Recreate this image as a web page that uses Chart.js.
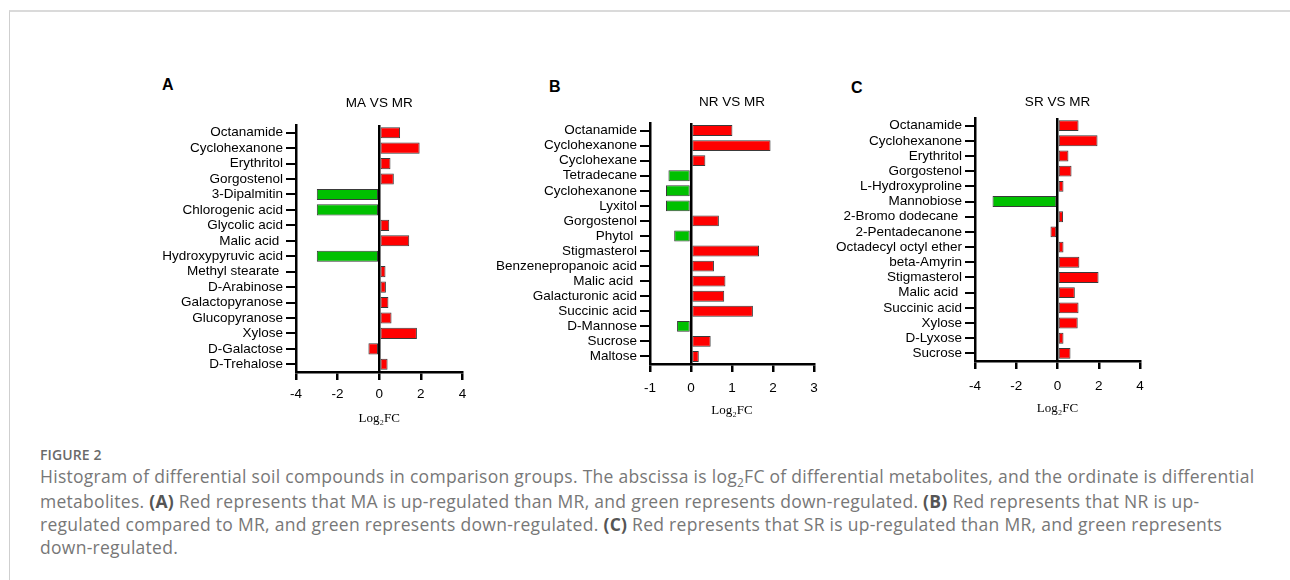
<!DOCTYPE html>
<html>
<head>
<meta charset="utf-8">
<script src="https://cdn.jsdelivr.net/npm/chart.js@4.4.1/dist/chart.umd.min.js"></script>
<style>
    html, body { margin: 0; padding: 0; background: #fff; }
    body { width: 1290px; height: 580px; position: relative; overflow: hidden; font-family: Arial, "Liberation Sans", sans-serif; }
    .frame { position: absolute; left: 9px; top: 10px; width: 1300px; height: 600px; border-top: 2px solid #dadada; border-left: 1.5px solid #cfcfcf; }
    .panel { position: absolute; }
    .letter { position: absolute; font: bold 16px Arial, "Liberation Sans", sans-serif; color: #000; line-height: 18px; }
    .cap-head { position: absolute; left: 40px; top: 445px; font: 600 14px "Open Sans", sans-serif; color: #6a6a6a; letter-spacing: 0.1px; }
    .cap { position: absolute; left: 40px; top: 465px; font: 17.5px/23px "Open Sans", sans-serif; color: #777; white-space: nowrap; letter-spacing: 0.28px; }
    .cap b { color: #555; font-weight: 700; }
    .cap sub { font-size: 68%; vertical-align: baseline; position: relative; top: 0.3em; }
</style>
</head>
<body>
<div class="frame"></div>

<div class="letter" style="left:162px; top:76px;">A</div>
<div class="letter" style="left:549px; top:78px;">B</div>
<div class="letter" style="left:851px; top:79px;">C</div>

<div class="panel" style="left:140px; top:95px; width:340px; height:331px;"><canvas id="chart-a"></canvas></div>
<div class="panel" style="left:480px; top:94px; width:360px; height:324px;"><canvas id="chart-b"></canvas></div>
<div class="panel" style="left:820px; top:94px; width:340px; height:322px;"><canvas id="chart-c"></canvas></div>

<div class="cap-head">FIGURE 2</div>
<div class="cap">
    <div>Histogram of differential soil compounds in comparison groups. The abscissa is log<sub>2</sub>FC of differential metabolites, and the ordinate is differential</div>
    <div>metabolites. <b>(A)</b> Red represents that MA is up-regulated than MR, and green represents down-regulated. <b>(B)</b> Red represents that NR is up-</div>
    <div>regulated compared to MR, and green represents down-regulated. <b>(C)</b> Red represents that SR is up-regulated than MR, and green represents</div>
    <div>down-regulated.</div>
</div>

<script>
// A: MA vs MR
const namesA = ['Octanamide', 'Cyclohexanone', 'Erythritol', 'Gorgostenol', '3-Dipalmitin', 'Chlorogenic acid',
    'Glycolic acid', 'Malic acid ', 'Hydroxypyruvic acid', 'Methyl stearate ', 'D-Arabinose', 'Galactopyranose',
    'Glucopyranose', 'Xylose', 'D-Galactose', 'D-Trehalose'];
const fcA = [1.0, 1.94, 0.54, 0.7, -3.0, -3.0, 0.48, 1.44, -3.0, 0.3, 0.32, 0.44, 0.59, 1.81, -0.52, 0.4];
const regA = ['up', 'up', 'up', 'up', 'down', 'down', 'up', 'up', 'down', 'up', 'up', 'up', 'up', 'up', 'up', 'up'];

// B: NR vs MR
const namesB = ['Octanamide', 'Cyclohexanone', 'Cyclohexane', 'Tetradecane', 'Cyclohexanone', 'Lyxitol',
    'Gorgostenol', 'Phytol ', 'Stigmasterol', 'Benzenepropanoic acid', 'Malic acid ', 'Galacturonic acid',
    'Succinic acid', 'D-Mannose', 'Sucrose', 'Maltose'];
const fcB = [1.01, 1.94, 0.35, -0.55, -0.61, -0.61, 0.68, -0.41, 1.66, 0.56, 0.84, 0.81, 1.51, -0.34, 0.48, 0.19];
const regB = ['up', 'up', 'up', 'down', 'down', 'down', 'up', 'down', 'up', 'up', 'up', 'up', 'up', 'down', 'up', 'up'];

// C: SR vs MR
const namesC = ['Octanamide', 'Cyclohexanone', 'Erythritol', 'Gorgostenol', 'L-Hydroxyproline', 'Mannobiose',
    '2-Bromo dodecane ', '2-Pentadecanone', 'Octadecyl octyl ether', 'beta-Amyrin', 'Stigmasterol', 'Malic acid ',
    'Succinic acid', 'Xylose', 'D-Lyxose', 'Sucrose'];
const fcC = [1.02, 1.94, 0.53, 0.68, 0.29, -3.15, 0.27, -0.34, 0.29, 1.06, 1.99, 0.84, 1.02, 0.98, 0.29, 0.63];
const regC = ['up', 'up', 'up', 'up', 'up', 'down', 'up', 'up', 'up', 'up', 'up', 'up', 'up', 'up', 'up', 'up'];

const ticksA = { min: -4, max: 4, step: 2 };
const ticksB = { min: -1, max: 3, step: 1 };
const ticksC = { min: -4, max: 4, step: 2 };

const RED = '#ff0000';
const GREEN = '#00c000';
const LABEL_FONT = { family: 'Arial, "Liberation Sans", sans-serif', size: 13.5 };

function makePanel(id, title, names, values, reg, range, box) {
    const ctx = document.getElementById(id).getContext('2d');
    return new Chart(ctx, {
        type: 'bar',
        data: {
            labels: names,
            datasets: [{
                data: values,
                backgroundColor: reg.map(r => r === 'down' ? GREEN : RED),
                borderColor: '#3a3a3a',
                borderWidth: 1,
                borderSkipped: false
            }]
        },
        options: {
            indexAxis: 'y',
            responsive: true,
            maintainAspectRatio: false,
            animation: false,
            layout: { padding: { left: 0, right: box.padRight, top: 0, bottom: 0 } },
            plugins: { legend: { display: false }, tooltip: { enabled: false } },
            scales: {
                x: {
                    position: 'bottom',
                    min: range.min,
                    max: range.max,
                    z: 1,
                    afterFit: s => { s.height = box.bottomH; },
                    ticks: { stepSize: range.step, color: '#000', font: LABEL_FONT, padding: box.tickPad, maxRotation: 0 },
                    grid: {
                        color: c => (c.tick && c.tick.value === 0) ? '#000' : 'rgba(0,0,0,0)',
                        tickColor: '#000',
                        lineWidth: 2.5,
                        tickLength: 8
                    },
                    border: { display: true, color: '#000', width: 2.5 },
                    title: {
                        display: true,
                        text: 'Log₂FC',
                        color: '#000',
                        font: { family: '"Liberation Serif", "Times New Roman", serif', size: 13 },
                        padding: 0
                    }
                },
                top: {
                    type: 'linear',
                    position: 'top',
                    display: true,
                    afterFit: s => { s.height = box.topH; },
                    ticks: { display: false },
                    grid: { display: false, drawTicks: false },
                    border: { display: false },
                    title: { display: true, text: title, color: '#000', font: LABEL_FONT, padding: 0 }
                },
                y: {
                    afterFit: s => { s.width = box.axisW; },
                    ticks: { color: '#000', font: LABEL_FONT, padding: 3, autoSkip: false },
                    grid: {
                        offset: false,
                        drawOnChartArea: false,
                        color: '#000',
                        lineWidth: 2,
                        tickLength: 10
                    },
                    border: { display: true, color: '#000', width: 2.5 }
                }
            }
        }
    });
}

document.addEventListener('DOMContentLoaded', () => {
    makePanel('chart-a', 'MA VS MR', namesA, fcA, regA, ticksA, { axisW: 156, padRight: 17.5, topH: 30, bottomH: 54, tickPad: 6 });
    makePanel('chart-b', 'NR VS MR', namesB, fcB, regB, ticksB, { axisW: 170, padRight: 26, topH: 29, bottomH: 54, tickPad: 8 });
    makePanel('chart-c', 'SR VS MR', namesC, fcC, regC, ticksC, { axisW: 155, padRight: 20, topH: 24, bottomH: 55, tickPad: 9 });
});
</script>
</body>
</html>
